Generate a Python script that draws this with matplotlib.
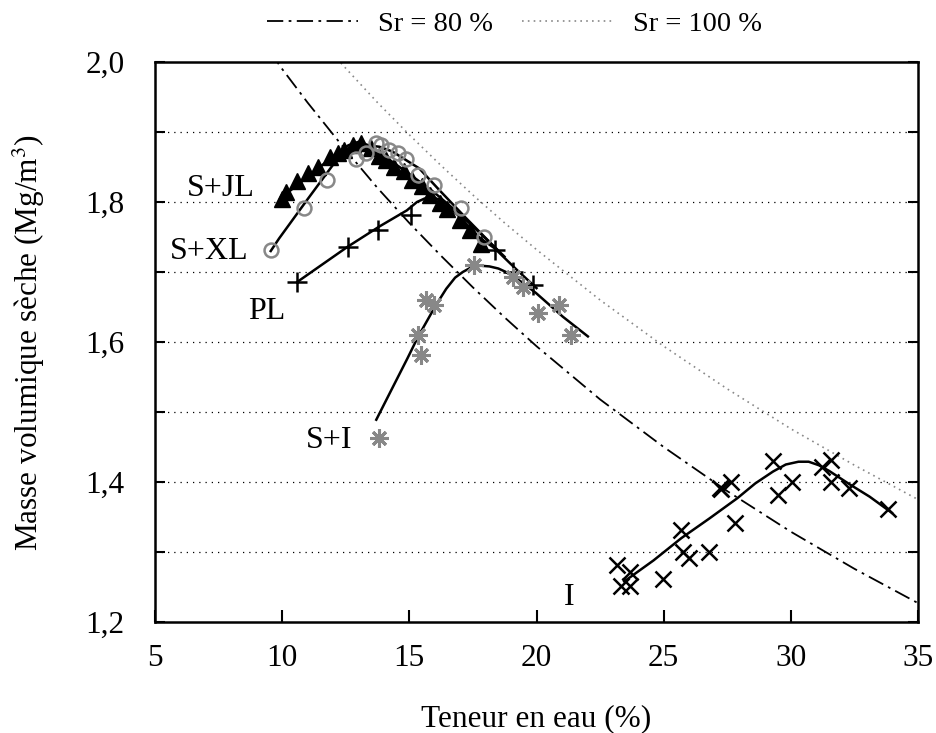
import matplotlib
matplotlib.use("Agg")
import matplotlib.pyplot as plt
from matplotlib.ticker import MultipleLocator, FuncFormatter

plt.rcParams["font.family"] = ["Liberation Serif", "DejaVu Serif"]
plt.rcParams["mathtext.fontset"] = "stix"

# ---------- DATA ----------
# S+JL : filled triangles
sjl_w = [10.0, 10.15, 10.6, 11.0, 11.4, 11.9, 12.2, 12.45, 12.8, 13.1,
         13.5, 13.8, 14.1, 14.4, 14.8, 15.1, 15.5, 15.8, 16.2, 16.5, 17.0, 17.4, 17.8]
sjl_rho = [1.805, 1.815, 1.83, 1.841, 1.85, 1.865, 1.87, 1.874, 1.881, 1.884,
           1.877, 1.866, 1.86, 1.85, 1.845, 1.832, 1.823, 1.81, 1.798, 1.79, 1.774, 1.76, 1.74]
sjl_fit_w = [10.1, 11.0, 12.0, 12.6, 13.0, 13.4, 14.0, 15.0, 16.0, 17.0, 18.0, 18.5]
sjl_fit_rho = [1.81, 1.836, 1.865, 1.881, 1.886, 1.881, 1.866, 1.84, 1.813, 1.782, 1.748, 1.73]

# S+XL : open grey circles
sxl_w = [9.55, 10.87, 11.78, 12.9, 13.3, 13.69, 13.89, 14.21, 14.54, 14.87,
         15.33, 15.98, 17.03, 17.95]
sxl_rho = [1.731, 1.791, 1.832, 1.862, 1.87, 1.884, 1.881, 1.874, 1.87, 1.862,
           1.839, 1.824, 1.791, 1.75]
sxl_fit_w = [9.55, 9.88, 11.0, 12.24, 12.8, 13.29, 13.82, 14.34, 15.39, 16.18, 17.23, 18.15, 18.74]
sxl_fit_rho = [1.73, 1.748, 1.804, 1.865, 1.876, 1.881, 1.879, 1.872, 1.848, 1.817, 1.777, 1.743, 1.722]

# PL : black plus
pl_w = [10.6, 12.57, 13.75, 15.07, 18.35, 19.07, 19.85]
pl_rho = [1.686, 1.736, 1.76, 1.781, 1.731, 1.70, 1.681]
pl_fit_w = [10.6, 12.57, 13.82, 14.9, 15.3, 15.6, 16.0, 16.38, 17.0, 17.76, 18.35, 19.2, 20.0]
pl_fit_rho = [1.686, 1.736, 1.765, 1.788, 1.80, 1.805, 1.806, 1.80, 1.778, 1.749, 1.734, 1.704, 1.677]

# S+I : grey asterisks
si_w = [13.8, 15.33, 15.46, 15.66, 15.98, 17.56, 19.07, 19.46, 20.05, 20.9, 21.37]
si_rho = [1.463, 1.61, 1.581, 1.66, 1.653, 1.71, 1.693, 1.679, 1.641, 1.653, 1.61]
si_fit_w = [13.7, 14.3, 14.93, 15.35, 16.05, 16.45, 16.8, 17.1, 17.4, 17.8, 18.15, 18.5,
            18.8, 19.4, 19.98, 21.04, 22.02]
si_fit_rho = [1.489, 1.532, 1.577, 1.608, 1.653, 1.676, 1.692, 1.700, 1.706, 1.709, 1.708, 1.705,
              1.70, 1.686, 1.67, 1.636, 1.608]

# I : black crosses
i_w = [23.16, 23.66, 23.33, 23.66, 24.97, 25.7, 25.76, 26.0, 26.77, 27.2, 27.25,
       27.66, 27.8, 29.28, 29.48, 30.05, 31.21, 31.57, 31.57, 32.3, 33.81]
i_rho = [1.281, 1.272, 1.252, 1.251, 1.261, 1.331, 1.30, 1.291, 1.30, 1.391, 1.39,
         1.40, 1.341, 1.43, 1.381, 1.40, 1.421, 1.431, 1.40, 1.391, 1.361]
i_fit_w = [23.45, 24.6, 25.7, 26.8, 27.9, 28.6, 29.3, 29.8, 30.3, 30.7, 31.1, 31.5, 32.3, 33.1, 33.97]
i_fit_rho = [1.258, 1.288, 1.32, 1.348, 1.377, 1.398, 1.415, 1.425, 1.429, 1.429, 1.424, 1.416, 1.397, 1.379, 1.356]

# saturation curves
sr80_w = [9.5, 10.0, 11.0, 12.5, 13.75, 15.0, 16.25, 17.5, 18.75, 20.0, 22.5,
          25.0, 27.5, 30.0, 32.5, 35.0]
sr80_rho = [2.016, 1.990, 1.942, 1.874, 1.820, 1.770, 1.723, 1.678, 1.635, 1.594, 1.518,
            1.450, 1.387, 1.329, 1.276, 1.227]
sr100_w = [12.0, 12.5, 13.75, 15.0, 16.25, 17.5, 18.75, 20.0, 22.5, 25.0, 27.5,
           30.0, 32.5, 35.0]
sr100_rho = [2.011, 1.991, 1.942, 1.896, 1.852, 1.810, 1.770, 1.732, 1.660, 1.594, 1.533,
             1.476, 1.424, 1.375]

labels = ["S+JL", "S+XL", "PL", "S+I", "I"]
label_pos = [(7.6, 1.82), (7.15, 1.73), (9.4, 1.643), (11.85, 1.46), (21.3, 1.235)]

grey = "#888888"
fs = 22.5

# ---------- PLOT ----------
fig = plt.figure(figsize=(9.36, 7.33), dpi=100)
ax = fig.add_axes([0.1656, 0.1514, 0.8152, 0.764])

for y in [1.3, 1.4, 1.5, 1.6, 1.7, 1.8, 1.9]:
    ax.axhline(y, color="black", lw=0.9, ls=(0, (1, 4)), zorder=0)

l80, = ax.plot(sr80_w, sr80_rho, color="black", lw=1.3, ls=(0, (9, 3, 1.5, 3)))
l100, = ax.plot(sr100_w, sr100_rho, color=grey, lw=1.2, ls=(0, (1, 2.5)))

ax.plot(sjl_fit_w, sjl_fit_rho, color="black", lw=1.8)
ax.plot(sxl_fit_w, sxl_fit_rho, color="black", lw=1.8)
ax.plot(pl_fit_w, pl_fit_rho, color="black", lw=1.8)
ax.plot(si_fit_w, si_fit_rho, color="black", lw=1.8)
ax.plot(i_fit_w, i_fit_rho, color="black", lw=1.8)

ax.plot(sjl_w, sjl_rho, ls="none", marker="^", ms=11, color="black")
ax.plot(sxl_w, sxl_rho, ls="none", marker="o", ms=10, mfc="none", mec=grey, mew=1.8)
ax.plot(pl_w, pl_rho, ls="none", marker="+", ms=14, mew=1.8, color="black")
ax.plot(si_w, si_rho, ls="none", marker=(8, 2, 0), ms=13, mew=2.2, color=grey)
ax.plot(i_w, i_rho, ls="none", marker="x", ms=11, mew=1.8, color="black")

for t, (x, y) in zip(labels, label_pos):
    ax.text(x, y, t, fontsize=23, ha="center", va="center")

ax.set_xlim(5, 35)
ax.set_ylim(1.2, 2.0)
ax.xaxis.set_major_locator(MultipleLocator(5))
ax.yaxis.set_major_locator(MultipleLocator(0.2))
ax.yaxis.set_minor_locator(MultipleLocator(0.1))
ax.yaxis.set_major_formatter(FuncFormatter(lambda v, p: f"{v:.1f}".replace(".", ",")))
ax.tick_params(axis="both", which="both", direction="in", labelsize=fs, width=1.5)
ax.tick_params(axis="y", which="both", length=7, right=True, pad=22)
ax.tick_params(axis="x", length=9, top=False, pad=16)
for s in ax.spines.values():
    s.set_linewidth(1.8)

ax.set_xlabel("Teneur en eau (%)", fontsize=fs)
ax.set_ylabel("Masse volumique sèche (Mg/m$^3$)", fontsize=fs)
ax.xaxis.set_label_coords(0.5, -0.146)
ax.yaxis.set_label_coords(-0.142, 0.5)

fig.legend([l80, l100], ["Sr = 80 %", "Sr = 100 %"], loc="upper center",
           bbox_to_anchor=(0.5497, 1.02), ncol=2, frameon=False, fontsize=20.5,
           handlelength=3.2, handletextpad=0.7, columnspacing=1.0)

fig.savefig("out.png", dpi=100)
